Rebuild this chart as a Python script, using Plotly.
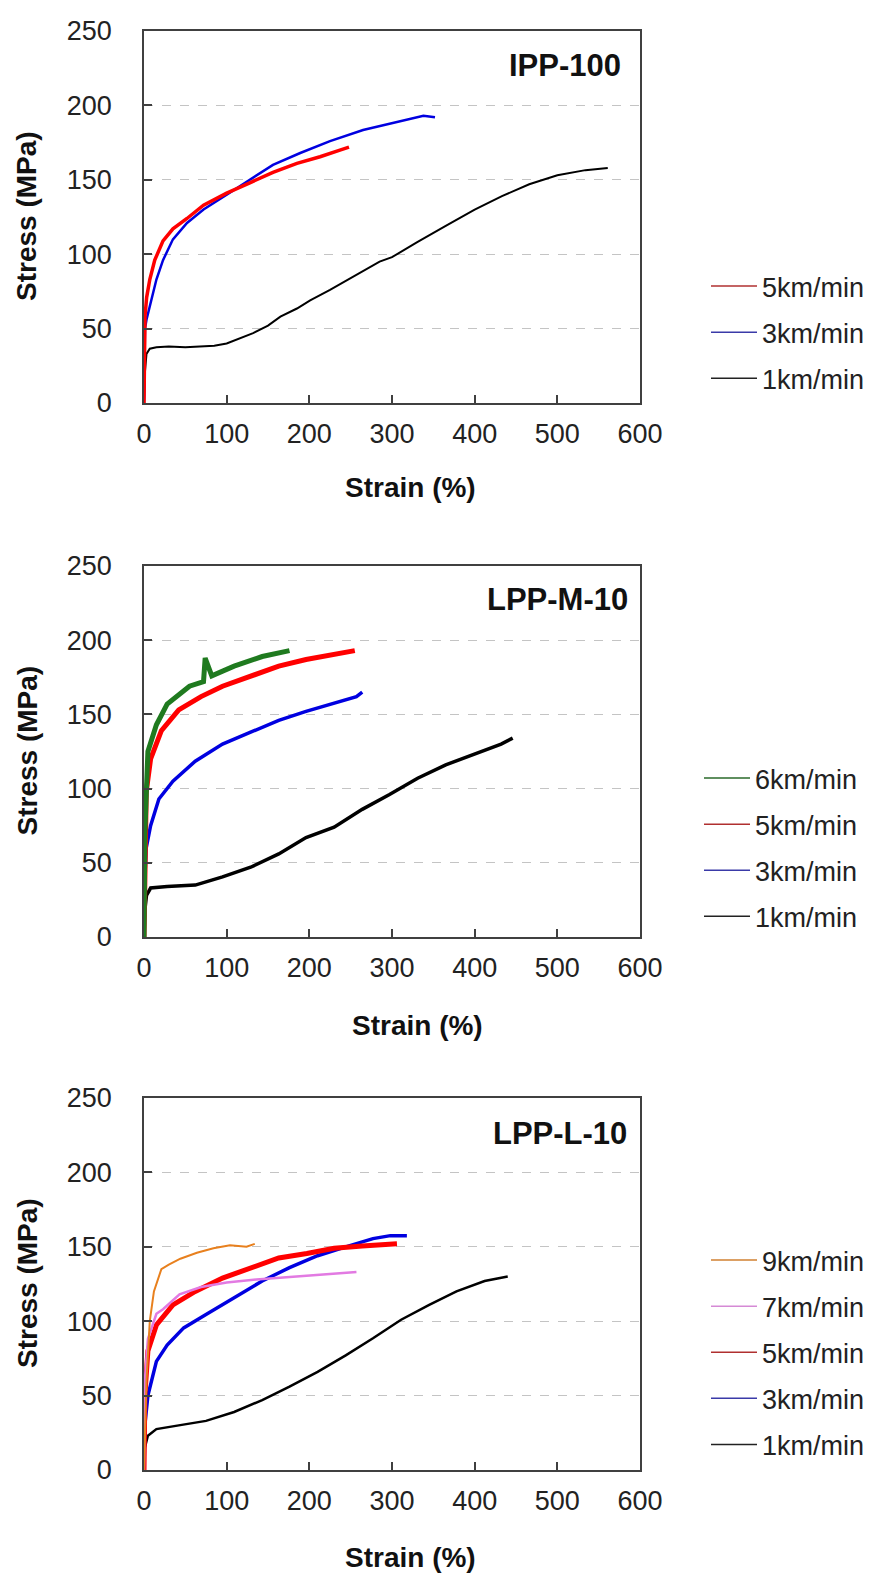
import plotly.graph_objects as go

W, H = 874, 1575

# ---------------- data ----------------
x_ticks = [0, 100, 200, 300, 400, 500, 600]
y_ticks = [0, 50, 100, 150, 200, 250]
panel_names = ["IPP-100", "LPP-M-10", "LPP-L-10"]

# Panel 1: IPP-100
p1_1km_x = [0, 1, 3, 7, 15, 30, 50, 70, 85, 100, 116, 132, 150, 165, 185, 201, 225, 250, 285, 300, 330, 365, 400, 433, 466, 500, 534, 561]
p1_1km_y = [0, 20, 33, 36.5, 37.5, 38, 37.5, 38, 38.5, 40, 43.5, 47, 52, 58, 63.5, 69, 76, 84, 95, 98, 108, 119, 130, 139, 147, 153, 156.5, 158]
p1_3km_x = [0, 0.5, 1.2, 3, 7, 15, 23, 35, 52, 72, 100, 128, 156, 189, 225, 265, 298, 320, 338, 352]
p1_3km_y = [0, 30, 50, 56, 65, 83, 96, 110, 121, 130, 140, 150, 160, 168, 176, 183.5, 188, 191, 193, 192]
p1_5km_x = [0, 0.5, 1.2, 3.2, 7, 13, 23, 35, 52, 72, 100, 128, 156, 185, 213, 237, 248]
p1_5km_y = [0, 35, 58, 71, 83, 96, 109, 117, 124, 133, 141, 148, 155, 161, 165.5, 170, 172]

# Panel 2: LPP-M-10
p2_1km_x = [0, 1, 3, 8, 28, 62, 95, 129, 163, 196, 230, 264, 297, 331, 365, 398, 432, 446]
p2_1km_y = [0, 18, 28, 33, 34, 35, 40.5, 47, 56, 67, 74, 86, 96, 107, 116, 123, 130, 134]
p2_3km_x = [0, 1, 2.7, 8, 18, 35, 62, 95, 129, 163, 196, 230, 257, 264]
p2_3km_y = [0, 40, 60, 75, 93, 105, 118.5, 130, 138, 146, 152, 157.5, 162, 165]
p2_5km_x = [0, 1, 2.7, 8, 21, 42, 69, 95, 129, 163, 196, 230, 255]
p2_5km_y = [0, 60, 98, 120, 139, 153, 162, 169, 176, 182.5, 187, 190.5, 193]
p2_6km_x = [0, 1, 4.7, 15, 28, 55, 72, 74, 82, 109, 143, 170, 176]
p2_6km_y = [0, 70, 125, 143, 157, 169, 172, 188, 176, 182.5, 189, 192, 193]

# Panel 3: LPP-L-10
p3_1km_x = [0, 1, 4.7, 15, 42, 75, 109, 143, 176, 210, 244, 277, 311, 345, 378, 412, 440]
p3_1km_y = [0, 15, 23, 27.5, 30, 33, 39, 47, 56, 66, 77, 88.5, 101, 111, 120, 127, 130]
p3_3km_x = [0, 1, 4.7, 15, 28, 48, 75, 109, 143, 176, 210, 244, 277, 298, 318]
p3_3km_y = [0, 30, 50, 73, 84, 95.5, 104.5, 116, 127, 136, 144, 150, 155.5, 157.5, 157.5]
p3_5km_x = [0, 1, 4.7, 15, 35, 62, 95, 129, 163, 197, 230, 264, 306]
p3_5km_y = [0, 50, 80, 97.5, 111, 120, 129, 136, 142.5, 145.5, 149, 150.5, 152]
p3_7km_x = [0, 1, 4.7, 15, 23, 43, 69, 100, 136, 185, 230, 257]
p3_7km_y = [0, 60, 88, 105, 108, 118, 123, 126, 128, 130, 131.5, 133]
p3_9km_x = [0, 3, 7, 12, 21, 30, 44, 64, 84, 104, 124, 134]
p3_9km_y = [0, 60, 100, 120, 135, 138, 142, 146, 149, 151, 150, 152]

# ---------------- styling / layout ----------------
FONT = "Liberation Sans, Arial, sans-serif"
COL = {"1km/min": "#000000", "3km/min": "#0000e0", "5km/min": "#ff0000",
       "6km/min": "#1f7a1f", "7km/min": "#e27ae2", "9km/min": "#e8801e"}
LEGCOL = {"1km/min": "#222222", "3km/min": "#3a3aa8", "5km/min": "#b03030",
          "6km/min": "#2a6a2a", "7km/min": "#d58ad5", "9km/min": "#d08030"}

panels = [
    ([("5km/min", p1_5km_x, p1_5km_y, 3.5), ("3km/min", p1_3km_x, p1_3km_y, 2.5), ("1km/min", p1_1km_x, p1_1km_y, 2)], (31, 403)),
    ([("6km/min", p2_6km_x, p2_6km_y, 5), ("5km/min", p2_5km_x, p2_5km_y, 5), ("3km/min", p2_3km_x, p2_3km_y, 3.5), ("1km/min", p2_1km_x, p2_1km_y, 3.5)], (566, 937)),
    ([("9km/min", p3_9km_x, p3_9km_y, 2), ("7km/min", p3_7km_x, p3_7km_y, 2.5), ("5km/min", p3_5km_x, p3_5km_y, 5), ("3km/min", p3_3km_x, p3_3km_y, 3.5), ("1km/min", p3_1km_x, p3_1km_y, 2.5)], (1098, 1470)),
]
label_pos = [(623, 66), (630, 599), (629, 1133)]
xtitle_pos = [(410, 488), (417, 1025), (410, 1557)]
legend_top = [262, 754, 1236]
legend_left = [706, 699, 706]

X0, X1 = 144, 640

def px(x):
    return x / W

def py(y):
    return 1 - y / H

fig = go.Figure()
layout = dict(width=W, height=H, margin=dict(l=0, r=0, t=0, b=0, autoexpand=False),
              paper_bgcolor="white", plot_bgcolor="white", showlegend=True,
              annotations=[])

for i, (series, (top, bot)) in enumerate(panels):
    sfx = "" if i == 0 else str(i + 1)
    xa, ya = "x" + sfx, "y" + sfx
    lg = "legend" + sfx
    # data curves (black first so that faster speeds lie on top)
    for k, (name, xs, ys, lw) in reversed(list(enumerate(series))):
        fig.add_trace(go.Scatter(x=xs, y=ys, mode="lines", name=name,
                                 line=dict(color=COL[name], width=lw),
                                 xaxis=xa, yaxis=ya, showlegend=False,
                                 legendgroup=f"p{i}_{name}"))
    # thin legend keys, like the reference
    for k, (name, xs, ys, lw) in enumerate(series):
        fig.add_trace(go.Scatter(x=[None], y=[None], mode="lines", name=name,
                                 line=dict(color=LEGCOL[name], width=1.5),
                                 xaxis=xa, yaxis=ya, legend=lg,
                                 legendgroup=f"p{i}_{name}", legendrank=k + 1,
                                 showlegend=True))
    common = dict(showline=True, mirror=True, linecolor="#404040", linewidth=1.5,
                  ticks="inside", ticklen=8, tickwidth=1.5, tickcolor="#404040",
                  zeroline=False, automargin=False,
                  tickfont=dict(family=FONT, size=27, color="#222222"))
    layout["xaxis" + sfx] = dict(common, domain=[px(X0), px(X1)], range=[0, 600],
                                 tickvals=x_ticks, showgrid=False, anchor=ya,
                                 ticklabelstandoff=6)
    layout["yaxis" + sfx] = dict(common, domain=[py(bot), py(top)], range=[0, 250],
                                 tickvals=y_ticks, showgrid=True, gridcolor="#c4c4c4",
                                 griddash="dash", gridwidth=1, anchor=xa,
                                 ticklabelstandoff=25)
    layout[lg] = dict(x=px(legend_left[i]), y=py(legend_top[i]), xanchor="left", yanchor="top",
                      font=dict(family=FONT, size=27, color="#222222"),
                      bgcolor="rgba(0,0,0,0)", tracegroupgap=8, itemwidth=46)
    lx, ly = label_pos[i]
    layout["annotations"].append(dict(text=f"<b>{panel_names[i]}</b>", x=px(lx), y=py(ly),
                                      xref="paper", yref="paper", xanchor="right", yanchor="middle",
                                      showarrow=False, font=dict(family=FONT, size=31, color="#111111")))
    tx, ty = xtitle_pos[i]
    layout["annotations"].append(dict(text="<b>Strain (%)</b>", x=px(tx), y=py(ty),
                                      xref="paper", yref="paper", xanchor="center", yanchor="middle",
                                      showarrow=False, font=dict(family=FONT, size=28, color="#111111")))
    layout["annotations"].append(dict(text="<b>Stress (MPa)</b>", x=px(27), y=py((top + bot) / 2 - 1),
                                      xref="paper", yref="paper", xanchor="center", yanchor="middle",
                                      textangle=-90, showarrow=False,
                                      font=dict(family=FONT, size=28, color="#111111")))

fig.update_layout(**layout)
fig.write_html("out.html")
